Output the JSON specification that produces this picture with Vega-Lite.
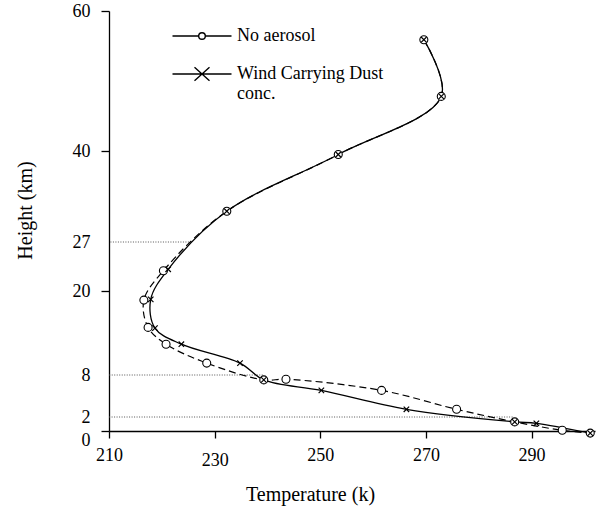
{
  "$schema": "https://vega.github.io/schema/vega-lite/v6.json",
  "width": 486,
  "height": 420,
  "autosize": {"type": "none"},
  "padding": {"left": 109, "top": 11, "right": 2, "bottom": 81},
  "background": "white",
  "config": {
    "view": {"stroke": null},
    "axis": {
      "grid": false,
      "domainColor": "black",
      "domainWidth": 1.3,
      "tickColor": "black",
      "tickWidth": 1.3,
      "labelColor": "black",
      "titleColor": "black",
      "labelFont": "Liberation Serif",
      "titleFont": "Liberation Serif",
      "titleFontWeight": "normal",
      "labelFontSize": 18,
      "titleFontSize": 20,
      "labelFlush": false,
      "labelOverlap": false
    }
  },
  "datasets": {
    "profiles": [
      {"series": "No aerosol", "i": 1, "t": 269.6, "h": 55.9},
      {"series": "No aerosol", "i": 2, "t": 272.9, "h": 47.8},
      {"series": "No aerosol", "i": 3, "t": 253.4, "h": 39.5},
      {"series": "No aerosol", "i": 4, "t": 232.3, "h": 31.4},
      {"series": "No aerosol", "i": 5, "t": 220.3, "h": 22.9},
      {"series": "No aerosol", "i": 6, "t": 216.6, "h": 18.7},
      {"series": "No aerosol", "i": 7, "t": 217.4, "h": 14.8},
      {"series": "No aerosol", "i": 8, "t": 220.8, "h": 12.4},
      {"series": "No aerosol", "i": 9, "t": 228.5, "h": 9.7},
      {"series": "No aerosol", "i": 10, "t": 239.3, "h": 7.3},
      {"series": "No aerosol", "i": 11, "t": 243.5, "h": 7.4},
      {"series": "No aerosol", "i": 12, "t": 261.6, "h": 5.8},
      {"series": "No aerosol", "i": 13, "t": 275.8, "h": 3.1},
      {"series": "No aerosol", "i": 14, "t": 286.8, "h": 1.3},
      {"series": "No aerosol", "i": 15, "t": 295.8, "h": 0.1},
      {"series": "No aerosol", "i": 16, "t": 301.1, "h": -0.3},
      {"series": "Wind Carrying Dust conc.", "i": 1, "t": 269.6, "h": 55.9},
      {"series": "Wind Carrying Dust conc.", "i": 2, "t": 272.9, "h": 47.8},
      {"series": "Wind Carrying Dust conc.", "i": 3, "t": 253.4, "h": 39.5},
      {"series": "Wind Carrying Dust conc.", "i": 4, "t": 232.3, "h": 31.4},
      {"series": "Wind Carrying Dust conc.", "i": 5, "t": 221.2, "h": 23.1},
      {"series": "Wind Carrying Dust conc.", "i": 6, "t": 217.9, "h": 18.8},
      {"series": "Wind Carrying Dust conc.", "i": 7, "t": 218.7, "h": 14.7},
      {"series": "Wind Carrying Dust conc.", "i": 8, "t": 223.7, "h": 12.4},
      {"series": "Wind Carrying Dust conc.", "i": 9, "t": 234.8, "h": 9.7},
      {"series": "Wind Carrying Dust conc.", "i": 10, "t": 239.3, "h": 7.3},
      {"series": "Wind Carrying Dust conc.", "i": 11, "t": 250.2, "h": 5.8},
      {"series": "Wind Carrying Dust conc.", "i": 12, "t": 266.3, "h": 3.1},
      {"series": "Wind Carrying Dust conc.", "i": 13, "t": 286.8, "h": 1.3},
      {"series": "Wind Carrying Dust conc.", "i": 14, "t": 290.9, "h": 1.1},
      {"series": "Wind Carrying Dust conc.", "i": 15, "t": 301.1, "h": -0.3}
    ],
    "refs": [
      {"h": 27, "t": 225.6},
      {"h": 8, "t": 239.1},
      {"h": 2, "t": 286.4}
    ]
  },
  "layer": [
    {
      "data": {"name": "refs"},
      "mark": {"type": "rule", "color": "#555555", "strokeWidth": 1, "strokeDash": [1, 1.5]},
      "encoding": {
        "x": {"field": "t", "type": "quantitative"},
        "x2": {"datum": 210},
        "y": {"field": "h", "type": "quantitative"}
      }
    },
    {
      "data": {"name": "profiles"},
      "transform": [{"filter": "datum.series == 'No aerosol'"}],
      "mark": {"type": "line", "color": "black", "strokeWidth": 1.2, "strokeDash": [7, 4], "interpolate": "catmull-rom"},
      "encoding": {
        "x": {"field": "t", "type": "quantitative"},
        "y": {"field": "h", "type": "quantitative"},
        "order": {"field": "i", "type": "quantitative"}
      }
    },
    {
      "data": {"name": "profiles"},
      "transform": [{"filter": "datum.series != 'No aerosol'"}],
      "mark": {"type": "line", "color": "black", "strokeWidth": 1.3, "interpolate": "catmull-rom"},
      "encoding": {
        "x": {"field": "t", "type": "quantitative"},
        "y": {"field": "h", "type": "quantitative"},
        "order": {"field": "i", "type": "quantitative"}
      }
    },
    {
      "data": {"name": "profiles"},
      "transform": [{"filter": "datum.series == 'No aerosol'"}],
      "mark": {"type": "point", "shape": "circle", "size": 64, "filled": true, "fill": "white", "fillOpacity": 1, "stroke": "black", "strokeWidth": 1.1, "opacity": 1},
      "encoding": {
        "x": {"field": "t", "type": "quantitative"},
        "y": {"field": "h", "type": "quantitative"}
      }
    },
    {
      "data": {"name": "profiles"},
      "transform": [{"filter": "datum.series != 'No aerosol'"}],
      "mark": {"type": "point", "shape": "M-1,-1L1,1M-1,1L1,-1", "size": 30, "filled": false, "stroke": "black", "strokeWidth": 1.2, "opacity": 1},
      "encoding": {
        "x": {"field": "t", "type": "quantitative", "scale": {"domain": [210, 302], "nice": false, "zero": false},
          "axis": {"values": [210, 230, 250, 270, 290], "title": "Temperature (k)", "tickSize": 7, "labelPadding": 8,
            "labelExpr": "datum.value == 230 ? ['', datum.label] : datum.label", "labelLineHeight": 5,
            "titleX": 201, "titleY": 69, "titleAlign": "center", "titleAnchor": "start", "titleBaseline": "alphabetic"}},
        "y": {"field": "h", "type": "quantitative", "scale": {"domain": [0, 60], "nice": false, "zero": false},
          "axis": {"values": [0, 2, 8, 20, 27, 40, 60], "title": "Height (km)", "tickSize": 8, "labelPadding": 11,
            "labelBaseline": {"condition": {"test": "datum.value == 0", "value": "top"}, "value": "middle"},
            "tickOpacity": {"condition": {"test": "datum.value == 2 || datum.value == 8 || datum.value == 27", "value": 0}, "value": 1},
            "titleX": -84, "titleY": 199, "titleAngle": -90, "titleAlign": "center", "titleAnchor": "start", "titleBaseline": "middle"}}
      }
    },
    {
      "data": {"name": "profiles"},
      "transform": [{"filter": "datum.i < 0"}],
      "mark": {"type": "point", "size": 100, "opacity": 1, "filled": false, "color": "black", "strokeWidth": 1.4},
      "encoding": {
        "x": {"field": "t", "type": "quantitative"},
        "y": {"field": "h", "type": "quantitative"},
        "shape": {
          "field": "series",
          "type": "nominal",
          "scale": {
            "domain": ["No aerosol", "Wind Carrying Dust conc."],
            "range": [
              "M-5.9,0L-0.66,0M0.66,0L5.9,0M-0.66,0A0.66,0.66,0,1,0,0.66,0A0.66,0.66,0,1,0,-0.66,0",
              "M-5.9,0L5.9,0M-1.5,-1.35L1.5,1.35M-1.5,1.35L1.5,-1.35"
            ]
          },
          "legend": {
            "orient": "none",
            "legendX": 84,
            "legendY": 16,
            "title": null,
            "padding": 0,
            "symbolOpacity": 1,
            "symbolStrokeColor": "black",
            "symbolStrokeWidth": 1.4,
            "symbolSize": 100,
            "labelFont": "Liberation Serif",
            "labelFontSize": 18,
            "labelColor": "black",
            "labelOffset": 26,
            "labelLimit": 0,
            "labelLineHeight": 22,
            "rowPadding": 19,
            "labelExpr": "datum.label == 'Wind Carrying Dust conc.' ? ['Wind Carrying Dust', '\u00a0\u00a0conc.'] : datum.label",
            "encode": {"symbols": {"update": {"stroke": {"value": "black"}, "opacity": {"value": 1}, "strokeWidth": {"value": 1.4}}}}
          }
        }
      }
    }
  ]
}
